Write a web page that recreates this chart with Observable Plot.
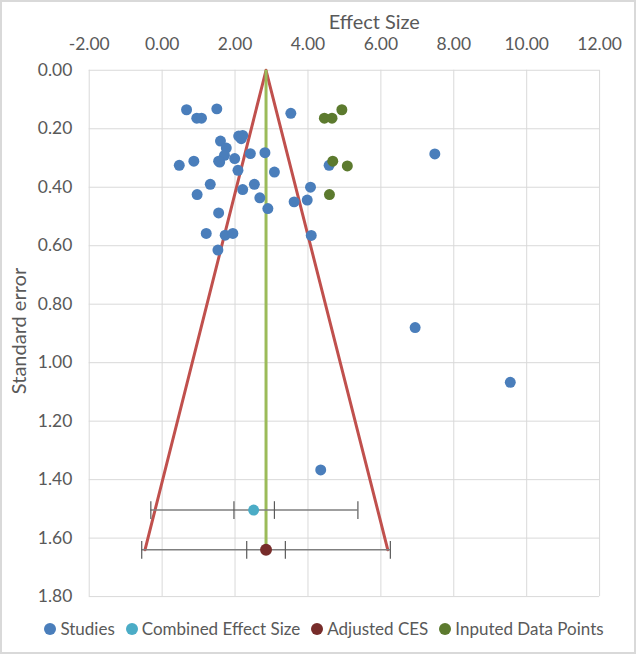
<!DOCTYPE html>
<html>
<head>
<meta charset="utf-8">
<script src="https://cdn.jsdelivr.net/npm/d3@7"></script>
<script src="https://cdn.jsdelivr.net/npm/@observablehq/plot@0.6"></script>
<style>
  html, body { margin: 0; padding: 0; background: #fff; }
  #frame { position: relative; width: 632px; height: 650px; border: 2px solid #d9d9d9; background: #fff; overflow: hidden; font-family: Lato, "Open Sans", sans-serif; }
  #chart { position: absolute; left: -2px; top: -2px; }
  #legend { position: absolute; left: 0; top: 616px; width: 636px; display: flex; justify-content: center; gap: 11px; font-size: 17px; color: #595959; font-family: Lato, sans-serif; padding-left: 8px; box-sizing: border-box; }
  #legend span.item { display: flex; align-items: center; }
  #legend span.sw { display: inline-block; width: 12px; height: 12px; border-radius: 50%; margin-right: 4px; }
  #ylab { position: absolute; left: 16px; top: 329px; transform: translate(-50%, -50%) rotate(-90deg); transform-origin: center; font-size: 20px; color: #595959; white-space: nowrap; font-family: Lato, sans-serif; }
</style>
</head>
<body>
<div id="frame">
  <div id="chart"></div>
  <div id="ylab">Standard error</div>
  <div id="legend"></div>
</div>
<script>
// ---- data ----
const studyES = [0.67, 0.95, 1.08, 1.50, 3.53,
  2.10, 2.21, 2.17,
  1.60, 1.76, 1.71, 1.58,
  2.42, 2.82, 1.55, 0.87, 0.47, 1.99, 2.08, 3.08,
  1.32, 0.96, 2.21, 2.53, 2.68, 2.90, 4.07, 3.98, 3.62,
  1.55, 1.21, 1.73, 1.94, 1.53, 4.09, 4.58,
  7.48, 6.94, 9.55, 4.35];
const studySE = [0.135, 0.164, 0.164, 0.132, 0.147,
  0.225, 0.223, 0.234,
  0.242, 0.266, 0.291, 0.314,
  0.285, 0.282, 0.311, 0.311, 0.325, 0.302, 0.342, 0.348,
  0.390, 0.425, 0.408, 0.390, 0.436, 0.473, 0.400, 0.444, 0.450,
  0.488, 0.558, 0.564, 0.558, 0.615, 0.565, 0.325,
  0.286, 0.880, 1.067, 1.367];
const imputedES = [4.93, 4.45, 4.66, 4.68, 5.08, 4.59];
const imputedSE = [0.135, 0.164, 0.164, 0.311, 0.327, 0.425];

const combinedES = 2.51, combinedSE = 1.504;
const combinedCI = [-0.31, 1.97, 3.08, 5.37]; // outer low, inner low, inner high, outer high
const adjustedES = 2.85, adjustedSE = 1.64;
const adjustedCI = [-0.56, 2.32, 3.38, 6.26];
const funnelES = [-0.47, 2.85, 6.19];
const funnelSE = [1.64, 0, 1.64];

const xTicks = [-2, 0, 2, 4, 6, 8, 10, 12];
const yTicks = [0, 0.2, 0.4, 0.6, 0.8, 1.0, 1.2, 1.4, 1.6, 1.8];

const legendItems = [
  ["Studies", "#4a7ebb"],
  ["Combined Effect Size", "#4bacc6"],
  ["Adjusted CES", "#772c2a"],
  ["Inputed Data Points", "#5c7a2e"]
];

// ---- build tables ----
const studies = studyES.map((x, i) => ({x, y: studySE[i]}));
const imputed = imputedES.map((x, i) => ({x, y: imputedSE[i]}));
const funnel = funnelES.map((x, i) => ({x, y: funnelSE[i]}));
const bars = [
  {x1: combinedCI[0], x2: combinedCI[3], y: combinedSE},
  {x1: adjustedCI[0], x2: adjustedCI[3], y: adjustedSE}
];
const caps = [
  ...combinedCI.map(x => ({x, y: combinedSE})),
  ...adjustedCI.map(x => ({x, y: adjustedSE}))
];
const vbar = {draw(context, size) { const r = Math.sqrt(size); context.moveTo(0, -r); context.lineTo(0, r); }};

const fmt = d => d.toFixed(2);

const chart = Plot.plot({
  width: 636,
  height: 612,
  marginTop: 70,
  marginLeft: 89,
  marginRight: 35,
  marginBottom: 14,
  style: {fontFamily: "Lato, sans-serif", fontSize: "17.5px", color: "#595959", background: "transparent"},
  x: {domain: [-2, 12], ticks: xTicks, tickFormat: fmt, axis: "top", label: null, tickSize: 0, tickPadding: 20},
  y: {domain: [0, 1.8], reverse: true, ticks: yTicks, tickFormat: fmt, label: null, tickSize: 0, tickPadding: 17},
  marks: [
    Plot.gridX(xTicks, {stroke: "#d9d9d9", strokeOpacity: 1, strokeWidth: 1}),
    Plot.gridY(yTicks, {stroke: "#d9d9d9", strokeOpacity: 1, strokeWidth: 1}),
    Plot.text(["Effect Size"], {frameAnchor: "top", lineAnchor: "middle", dy: -48, dx: 30, fontSize: 20, fill: "#595959"}),
    Plot.line(funnel, {x: "x", y: "y", stroke: "#c0504d", strokeWidth: 3}),
    Plot.ruleX([adjustedES], {y1: 0, y2: adjustedSE, stroke: "#9bbb59", strokeWidth: 3}),
    Plot.ruleY(bars, {x1: "x1", x2: "x2", y: "y", stroke: "#7f7f7f", strokeWidth: 1.5}),
    Plot.dot(caps, {x: "x", y: "y", symbol: vbar, r: 5, stroke: "#595959", strokeWidth: 1.2, fill: "none"}),
    Plot.dot(studies, {x: "x", y: "y", r: 5.5, fill: "#4a7ebb", stroke: "none"}),
    Plot.dot(imputed, {x: "x", y: "y", r: 5.5, fill: "#5c7a2e", stroke: "none"}),
    Plot.dot([{x: combinedES, y: combinedSE}], {x: "x", y: "y", r: 5.5, fill: "#4bacc6", stroke: "none"}),
    Plot.dot([{x: adjustedES, y: adjustedSE}], {x: "x", y: "y", r: 6, fill: "#772c2a", stroke: "none"})
  ]
});
document.getElementById("chart").appendChild(chart);

const leg = document.getElementById("legend");
for (const [name, color] of legendItems) {
  const it = document.createElement("span");
  it.className = "item";
  it.innerHTML = `<span class="sw" style="background:${color}"></span>${name}`;
  leg.appendChild(it);
}
</script>
</body>
</html>
